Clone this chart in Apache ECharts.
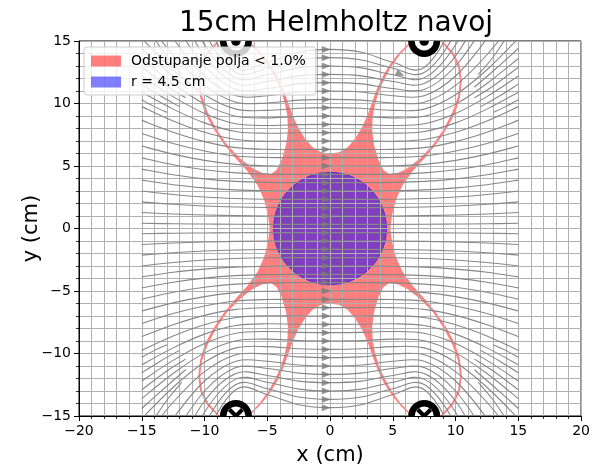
<!DOCTYPE html>
<html><head><meta charset="utf-8">
<script src="https://cdn.jsdelivr.net/npm/echarts@6/dist/echarts.min.js"></script>
<style>html,body{margin:0;padding:0;background:#fff}#c{width:593px;height:471px}</style>
</head><body><div id="c"></div>
<script>
// x positions (cm) at which every streamline is sampled
const streamX = [-15,-12.5,-10,-7.5,-5,-2.5,0,2.5,5,7.5,10,12.5,15];
// streamlines in the upper half (y values at streamX)
const upperLines = [
 [0.42,0.38,0.36,0.34,0.33,0.33,0.33,0.33,0.33,0.34,0.36,0.38,0.42],
 [1.28,1.16,1.08,1.03,1.0,1.0,1.0,1.0,1.0,1.03,1.08,1.16,1.28],
 [2.13,1.94,1.8,1.72,1.68,1.67,1.67,1.67,1.68,1.72,1.8,1.94,2.13],
 [3.0,2.72,2.52,2.4,2.34,2.33,2.33,2.33,2.34,2.4,2.52,2.72,3.0],
 [3.87,3.5,3.25,3.09,3.02,3.0,3.0,3.0,3.02,3.09,3.25,3.5,3.87],
 [4.75,4.3,3.97,3.77,3.69,3.67,3.67,3.67,3.69,3.77,3.97,4.3,4.75],
 [5.65,5.1,4.7,4.45,4.35,4.33,4.33,4.33,4.35,4.45,4.7,5.1,5.65],
 [6.6,5.95,5.45,5.13,5.02,5.0,5.0,5.0,5.02,5.13,5.45,5.95,6.6],
 [7.6,6.8,6.2,5.8,5.68,5.67,5.67,5.67,5.68,5.8,6.2,6.8,7.6],
 [8.65,7.7,6.95,6.47,6.33,6.33,6.33,6.33,6.33,6.47,6.95,7.7,8.65],
 [9.75,8.6,7.7,7.12,6.98,7.0,7.0,7.0,6.98,7.12,7.7,8.6,9.75],
 [10.9,9.55,8.45,7.76,7.62,7.66,7.67,7.66,7.62,7.76,8.45,9.55,10.9],
 [12.2,10.55,9.2,8.38,8.24,8.31,8.33,8.31,8.24,8.38,9.2,10.55,12.2],
 [13.6,11.6,9.95,8.98,8.85,8.97,9.0,8.97,8.85,8.98,9.95,11.6,13.6],
 [15.2,12.7,10.7,9.55,9.45,9.62,9.67,9.62,9.45,9.55,10.7,12.7,15.2],
 [17,13.9,11.45,10.1,10.04,10.27,10.33,10.27,10.04,10.1,11.45,13.9,17],
 [19,15.2,12.2,10.62,10.62,10.92,11.0,10.92,10.62,10.62,12.2,15.2,19],
 [21,16.6,13.0,11.12,11.2,11.57,11.67,11.57,11.2,11.12,13.0,16.6,21],
 [23,18.2,13.8,11.6,11.76,12.21,12.33,12.21,11.76,11.6,13.8,18.2,23],
 [25,20,14.7,12.05,12.3,12.85,13.0,12.85,12.3,12.05,14.7,20,25],
 [27,22,15.7,12.48,12.82,13.48,13.67,13.48,12.82,12.48,15.7,22,27],
 [29,24,16.8,12.88,13.3,14.1,14.33,14.1,13.3,12.88,16.8,24,29]
];
// streamlines in the lower half
const lowerLines = [
 [-0.42,-0.38,-0.36,-0.34,-0.33,-0.33,-0.33,-0.33,-0.33,-0.34,-0.36,-0.38,-0.42],
 [-1.28,-1.16,-1.08,-1.03,-1.0,-1.0,-1.0,-1.0,-1.0,-1.03,-1.08,-1.16,-1.28],
 [-2.13,-1.94,-1.8,-1.72,-1.68,-1.67,-1.67,-1.67,-1.68,-1.72,-1.8,-1.94,-2.13],
 [-3.0,-2.72,-2.52,-2.4,-2.34,-2.33,-2.33,-2.33,-2.34,-2.4,-2.52,-2.72,-3.0],
 [-3.87,-3.5,-3.25,-3.09,-3.02,-3.0,-3.0,-3.0,-3.02,-3.09,-3.25,-3.5,-3.87],
 [-4.75,-4.3,-3.97,-3.77,-3.69,-3.67,-3.67,-3.67,-3.69,-3.77,-3.97,-4.3,-4.75],
 [-5.65,-5.1,-4.7,-4.45,-4.35,-4.33,-4.33,-4.33,-4.35,-4.45,-4.7,-5.1,-5.65],
 [-6.6,-5.95,-5.45,-5.13,-5.02,-5.0,-5.0,-5.0,-5.02,-5.13,-5.45,-5.95,-6.6],
 [-7.6,-6.8,-6.2,-5.8,-5.68,-5.67,-5.67,-5.67,-5.68,-5.8,-6.2,-6.8,-7.6],
 [-8.65,-7.7,-6.95,-6.47,-6.33,-6.33,-6.33,-6.33,-6.33,-6.47,-6.95,-7.7,-8.65],
 [-9.75,-8.6,-7.7,-7.12,-6.98,-7.0,-7.0,-7.0,-6.98,-7.12,-7.7,-8.6,-9.75],
 [-10.9,-9.55,-8.45,-7.76,-7.62,-7.66,-7.67,-7.66,-7.62,-7.76,-8.45,-9.55,-10.9],
 [-12.2,-10.55,-9.2,-8.38,-8.24,-8.31,-8.33,-8.31,-8.24,-8.38,-9.2,-10.55,-12.2],
 [-13.6,-11.6,-9.95,-8.98,-8.85,-8.97,-9.0,-8.97,-8.85,-8.98,-9.95,-11.6,-13.6],
 [-15.2,-12.7,-10.7,-9.55,-9.45,-9.62,-9.67,-9.62,-9.45,-9.55,-10.7,-12.7,-15.2],
 [-17,-13.9,-11.45,-10.1,-10.04,-10.27,-10.33,-10.27,-10.04,-10.1,-11.45,-13.9,-17],
 [-19,-15.2,-12.2,-10.62,-10.62,-10.92,-11.0,-10.92,-10.62,-10.62,-12.2,-15.2,-19],
 [-21,-16.6,-13.0,-11.12,-11.2,-11.57,-11.67,-11.57,-11.2,-11.12,-13.0,-16.6,-21],
 [-23,-18.2,-13.8,-11.6,-11.76,-12.21,-12.33,-12.21,-11.76,-11.6,-13.8,-18.2,-23],
 [-25,-20,-14.7,-12.05,-12.3,-12.85,-13.0,-12.85,-12.3,-12.05,-14.7,-20,-25],
 [-27,-22,-15.7,-12.48,-12.82,-13.48,-13.67,-13.48,-12.82,-12.48,-15.7,-22,-27],
 [-29,-24,-16.8,-12.88,-13.3,-14.1,-14.33,-14.1,-13.3,-12.88,-16.8,-24,-29]
];
// short streamlines filling the gaps near the outer edges: [x1,y1,x2,y2,x3,y3]
const outerLines = [
 [11.5,11.3,13,12.6,15,14.4],[11.5,10.45,13,11.4,15,12.9],[12,9.75,13.5,10.6,15,11.55],[13,9.3,14,9.75,15,10.3],[11.8,12.3,12.9,13.6,14,15.2],
 [-11.5,11.3,-13,12.6,-15,14.4],[-11.5,10.45,-13,11.4,-15,12.9],[-12,9.75,-13.5,10.6,-15,11.55],[-13,9.3,-14,9.75,-15,10.3],[-11.8,12.3,-12.9,13.6,-14,15.2],
 [11.5,-11.3,13,-12.6,15,-14.4],[11.5,-10.45,13,-11.4,15,-12.9],[12,-9.75,13.5,-10.6,15,-11.55],[13,-9.3,14,-9.75,15,-10.3],[11.8,-12.3,12.9,-13.6,14,-15.2],
 [-11.5,-11.3,-13,-12.6,-15,-14.4],[-11.5,-10.45,-13,-11.4,-15,-12.9],[-12,-9.75,-13.5,-10.6,-15,-11.55],[-13,-9.3,-14,-9.75,-15,-10.3],[-11.8,-12.3,-12.9,-13.6,-14,-15.2]
];
const arrowX = -0.3;
// extra arrow on the loop under the upper-right wire: [x, y, direction deg]
const loopArrows = [[5.6, 12.35, -20]];
// region where field deviation < 1 % (outline, four quadrants)
const redUR = [[0,6.0],[0.7,6.1],[1.4,6.5],[2.0,7.2],[2.55,8.1],[3.0,9.1],[3.35,10.1],[3.7,11.1],[4.15,12.1],[4.75,13.1],[5.45,14.0],[6.2,14.75],[6.45,15],
 [6.6,15],[6.35,14.75],[5.6,13.95],[4.9,13.0],[4.35,12.0],[3.9,11.0],[3.6,10.0],[3.4,9.0],[3.35,7.9],[3.5,6.7],[3.85,5.5],[4.25,4.7],[4.7,4.35],
 [5.4,4.45],[6.2,4.85],[7.2,5.65],[8.2,6.7],[9.05,7.95],[9.75,9.3],[10.2,10.6],[10.35,11.8],[10.2,12.95],[9.7,13.95],[9.05,14.7],[8.8,15],
 [8.95,15],[9.85,14.05],[10.35,13.0],[10.5,11.8],[10.35,10.5],[9.95,9.2],[9.3,8.0],[8.5,6.8],[7.6,5.7],[6.6,4.6],[5.8,3.5],[5.25,2.3],[4.95,1.1],[4.8,0]];
const redLR = [[4.95,-1.1],[5.25,-2.3],[5.8,-3.5],[6.6,-4.6],[7.6,-5.7],[8.5,-6.8],[9.3,-8.0],[9.95,-9.2],[10.35,-10.5],[10.5,-11.8],[10.35,-13.0],[9.85,-14.05],[8.95,-15],
 [8.8,-15],[9.05,-14.7],[9.7,-13.95],[10.2,-12.95],[10.35,-11.8],[10.2,-10.6],[9.75,-9.3],[9.05,-7.95],[8.2,-6.7],[7.2,-5.65],[6.2,-4.85],[5.4,-4.45],
 [4.7,-4.35],[4.25,-4.7],[3.85,-5.5],[3.5,-6.7],[3.35,-7.9],[3.4,-9.0],[3.6,-10.0],[3.9,-11.0],[4.35,-12.0],[4.9,-13.0],[5.6,-13.95],[6.35,-14.75],[6.6,-15],
 [6.45,-15],[6.2,-14.75],[5.45,-14.0],[4.75,-13.1],[4.15,-12.1],[3.7,-11.1],[3.35,-10.1],[3.0,-9.1],[2.55,-8.1],[2.0,-7.2],[1.4,-6.5],[0.7,-6.1],[0,-6.0]];
const redLL = [[-0.7,-6.1],[-1.4,-6.5],[-2.0,-7.2],[-2.55,-8.1],[-3.0,-9.1],[-3.35,-10.1],[-3.7,-11.1],[-4.15,-12.1],[-4.75,-13.1],[-5.45,-14.0],[-6.2,-14.75],[-6.45,-15],
 [-6.6,-15],[-6.35,-14.75],[-5.6,-13.95],[-4.9,-13.0],[-4.35,-12.0],[-3.9,-11.0],[-3.6,-10.0],[-3.4,-9.0],[-3.35,-7.9],[-3.5,-6.7],[-3.85,-5.5],[-4.25,-4.7],[-4.7,-4.35],
 [-5.4,-4.45],[-6.2,-4.85],[-7.2,-5.65],[-8.2,-6.7],[-9.05,-7.95],[-9.75,-9.3],[-10.2,-10.6],[-10.35,-11.8],[-10.2,-12.95],[-9.7,-13.95],[-9.05,-14.7],[-8.8,-15],
 [-8.95,-15],[-9.85,-14.05],[-10.35,-13.0],[-10.5,-11.8],[-10.35,-10.5],[-9.95,-9.2],[-9.3,-8.0],[-8.5,-6.8],[-7.6,-5.7],[-6.6,-4.6],[-5.8,-3.5],[-5.25,-2.3],[-4.95,-1.1],[-4.8,0]];
const redUL = [[-4.95,1.1],[-5.25,2.3],[-5.8,3.5],[-6.6,4.6],[-7.6,5.7],[-8.5,6.8],[-9.3,8.0],[-9.95,9.2],[-10.35,10.5],[-10.5,11.8],[-10.35,13.0],[-9.85,14.05],[-8.95,15],
 [-8.8,15],[-9.05,14.7],[-9.7,13.95],[-10.2,12.95],[-10.35,11.8],[-10.2,10.6],[-9.75,9.3],[-9.05,7.95],[-8.2,6.7],[-7.2,5.65],[-6.2,4.85],[-5.4,4.45],
 [-4.7,4.35],[-4.25,4.7],[-3.85,5.5],[-3.5,6.7],[-3.35,7.9],[-3.4,9.0],[-3.6,10.0],[-3.9,11.0],[-4.35,12.0],[-4.9,13.0],[-5.6,13.95],[-6.35,14.75],[-6.6,15],
 [-6.45,15],[-6.2,14.75],[-5.45,14.0],[-4.75,13.1],[-4.15,12.1],[-3.7,11.1],[-3.35,10.1],[-3.0,9.1],[-2.55,8.1],[-2.0,7.2],[-1.4,6.5],[-0.7,6.1]];
const circleCenter = [0, 0];
const circleRadius = 4.5;
// coil wire cross-sections: [x, y, kind] kind 0 = dot (top), 1 = cross (bottom)
const wires = [[-7.5,15,0],[7.5,15,0],[-7.5,-15,1],[7.5,-15,1]];
const labelRed = 'Odstupanje polja < 1.0%';
const labelBlue = 'r = 4.5 cm';
const FONT = 'DejaVu Sans';

const redPolygon = redUR.concat(redLR, redLL, redUL);
const allLines = upperLines.concat(lowerLines);

function plotClip(params) {
  const cs = params.coordSys;
  return {type: 'rect', shape: {x: cs.x, y: cs.y, width: cs.width, height: cs.height}};
}
// smooth curve through the projected points (Catmull-Rom written as cubic Bezier)
function curvePath(pts) {
  let d = 'M' + pts[0][0] + ' ' + pts[0][1];
  for (let i = 0; i < pts.length - 1; i++) {
    const p0 = pts[i - 1] || pts[i], p1 = pts[i], p2 = pts[i + 1], p3 = pts[i + 2] || pts[i + 1];
    const c1x = p1[0] + (p2[0] - p0[0]) / 6, c1y = p1[1] + (p2[1] - p0[1]) / 6;
    const c2x = p2[0] - (p3[0] - p1[0]) / 6, c2y = p2[1] - (p3[1] - p1[1]) / 6;
    d += ' C' + c1x + ' ' + c1y + ' ' + c2x + ' ' + c2y + ' ' + p2[0] + ' ' + p2[1];
  }
  return d;
}
const lineStyle = {fill: null, stroke: '#878787', lineWidth: 1.1};

const series = [];
series.push({
  name: labelRed, type: 'custom', z: 0,
  itemStyle: {color: 'rgba(255,0,0,0.5)'},
  data: [0],
  renderItem: (params, api) => ({
    type: 'polygon',
    shape: {points: redPolygon.map(p => api.coord(p))},
    style: {fill: 'rgba(255,0,0,0.5)', stroke: null}
  })
});
series.push({
  name: labelBlue, type: 'custom', z: 0,
  itemStyle: {color: 'rgba(0,0,255,0.5)'},
  data: [[circleCenter[0], circleCenter[1], circleRadius]],
  renderItem: (params, api) => {
    const c = api.coord([api.value(0), api.value(1)]);
    const s = api.size([api.value(2), api.value(2)]);
    return {type: 'ellipse', shape: {cx: c[0], cy: c[1], rx: s[0], ry: s[1]},
      style: {fill: 'rgba(0,0,255,0.5)', stroke: 'rgba(0,0,255,0.5)', lineWidth: 1}};
  }
});
series.push({
  type: 'custom', z: 2, silent: true,
  data: allLines,
  renderItem: (params, api) => {
    const pts = streamX.map((x, i) => api.coord([x, api.value(i)]));
    return {type: 'path', shape: {pathData: curvePath(pts)}, style: lineStyle, clipPath: plotClip(params)};
  }
});
series.push({
  type: 'custom', z: 2, silent: true,
  data: outerLines,
  renderItem: (params, api) => {
    const pts = [0, 2, 4].map(i => api.coord([api.value(i), api.value(i + 1)]));
    return {type: 'path', shape: {pathData: curvePath(pts)}, style: lineStyle, clipPath: plotClip(params)};
  }
});
series.push({
  type: 'scatter', z: 3, silent: true, symbol: 'triangle', symbolRotate: -90, symbolSize: [7, 9],
  itemStyle: {color: '#7a7a7a'},
  data: allLines.map(ys => [arrowX, ys[6]])
});
series.push({
  type: 'scatter', z: 3, silent: true, symbol: 'triangle', symbolSize: [7, 9],
  itemStyle: {color: '#7a7a7a'},
  data: loopArrows.map(a => ({value: [a[0], a[1]], symbolRotate: a[2] - 90}))
});
series.push({
  type: 'custom', z: 4, silent: true,
  data: wires,
  renderItem: (params, api) => {
    const c = api.coord([api.value(0), api.value(1)]);
    const top = api.value(2) === 0;
    const a0 = top ? 0 : Math.PI, a1 = top ? Math.PI : 2 * Math.PI;
    const kids = [
      {type: 'sector', shape: {cx: c[0], cy: c[1], r0: 0, r: 16, startAngle: a0, endAngle: a1}, style: {fill: '#000'}},
      {type: 'sector', shape: {cx: c[0], cy: c[1], r0: 0, r: 9.5, startAngle: a0, endAngle: a1}, style: {fill: '#fff'}}
    ];
    if (top) {
      kids.push({type: 'sector', shape: {cx: c[0], cy: c[1], r0: 0, r: 4.8, startAngle: a0, endAngle: a1}, style: {fill: '#000'}});
    } else {
      kids.push({type: 'line', shape: {x1: c[0], y1: c[1], x2: c[0]-6.5, y2: c[1]-6.5}, style: {stroke: '#000', lineWidth: 4}});
      kids.push({type: 'line', shape: {x1: c[0], y1: c[1], x2: c[0]+6.5, y2: c[1]-6.5}, style: {stroke: '#000', lineWidth: 4}});
    }
    return {type: 'group', children: kids};
  }
});

const gridColor = '#b0b0b0';
const minus = v => String(v).replace('-', '\u2212');
function axis(extra) {
  return Object.assign({
    type: 'value', z: 1, interval: 5,
    axisLine: {show: true, onZero: false, lineStyle: {color: '#000', width: 1}},
    axisTick: {show: true, length: 5, lineStyle: {color: '#000', width: 1}},
    minorTick: {show: true, splitNumber: 5, length: 3, lineStyle: {color: '#000', width: 0.8}},
    splitLine: {show: true, lineStyle: {color: gridColor, width: 1}},
    minorSplitLine: {show: true, lineStyle: {color: gridColor, width: 1}},
    axisLabel: {color: '#000', fontFamily: FONT, fontSize: 14, margin: 8, formatter: minus},
    nameLocation: 'middle', nameMoveOverlap: false,
    nameTextStyle: {color: '#000', fontFamily: FONT, fontSize: 21}
  }, extra);
}
const option = {
  animation: false,
  backgroundColor: '#fff',
  title: {text: '15cm Helmholtz navoj', left: 331, top: 5, textAlign: 'center',
    textStyle: {fontFamily: FONT, fontSize: 28, fontWeight: 'normal', color: '#000'}},
  legend: {
    left: 84, top: 47, orient: 'vertical', z: 10,
    data: [labelRed, labelBlue], icon: 'rect', itemWidth: 30, itemHeight: 11, itemGap: 7,
    padding: [7, 10, 6, 7],
    backgroundColor: 'rgba(255,255,255,0.8)', borderColor: '#cccccc', borderWidth: 1, borderRadius: 3,
    textStyle: {fontFamily: FONT, fontSize: 14, color: '#000', padding: [0, 0, 0, 5]}
  },
  grid: {left: 79, right: 10, top: 41, bottom: 54, show: true, borderColor: '#000', borderWidth: 1, z: 1},
  xAxis: axis({min: -20, max: 20, name: 'x (cm)', nameGap: 29}),
  yAxis: axis({min: -15, max: 15, name: 'y (cm)', nameGap: 37, nameRotate: 90}),
  series: series
};
const chart = echarts.init(document.getElementById('c'), null, {renderer: 'canvas'});
chart.setOption(option);
</script></body></html>
